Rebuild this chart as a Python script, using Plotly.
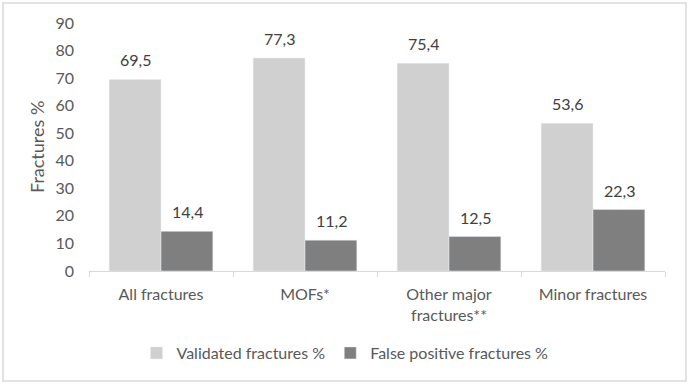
import plotly.graph_objects as go

categories = ["All fractures", "MOFs*", "Other major<br>fractures**", "Minor fractures"]
validated = [69.5, 77.3, 75.4, 53.6]
false_pos = [14.4, 11.2, 12.5, 22.3]
y_ticks = [0, 10, 20, 30, 40, 50, 60, 70, 80, 90]

FONT = "Lato, 'Open Sans', sans-serif"

fig = go.Figure()
fig.add_trace(go.Bar(
    x=categories, y=validated, name="Validated fractures %",
    marker=dict(color="#d0d0d0"),
))
fig.add_trace(go.Bar(
    x=categories, y=false_pos, name="False positive fractures %",
    marker=dict(color="#7f7f7f"),
))

W, H = 689, 384
L, R, T, B = 89, 24, 23, 113
pw, ph = W - L - R, H - T - B

def px_x(x):
    return (x - L) / pw

def px_y(y):
    return (H - B - y) / ph

def fmt(v):
    return f"{v:.1f}".replace(".", ",")

annotations = []
for series, shift in ((validated, -26), (false_pos, 26)):
    for c, v in zip(categories, series):
        annotations.append(dict(
            x=c, y=v, xref="x", yref="y", text=fmt(v), showarrow=False,
            xshift=shift, yshift=8, xanchor="center", yanchor="bottom",
            font=dict(size=16, color="#404040", family=FONT)))

annotations.append(dict(text="Fractures %", xref="paper", yref="paper",
                        x=px_x(37), y=px_y(147), textangle=-90,
                        showarrow=False, xanchor="center", yanchor="middle",
                        font=dict(size=18, color="#595959")))

fig.update_layout(
    width=W, height=H,
    margin=dict(l=L, r=R, t=T, b=B, autoexpand=False),
    paper_bgcolor="white", plot_bgcolor="white",
    separators=", ",
    barmode="group", bargap=0.28, bargroupgap=0,
    font=dict(family=FONT, size=15, color="#595959"),
    showlegend=True,
    legend=dict(orientation="h", x=px_x(345), xanchor="center",
                y=px_y(353), yanchor="middle",
                font=dict(size=16, color="#595959"),
                itemwidth=30, traceorder="normal"),
    xaxis=dict(showgrid=False, showline=True, linecolor="#d9d9d9", linewidth=1,
               ticks="outside", tickson="boundaries", ticklen=5, tickcolor="#d9d9d9",
               ticklabelstandoff=9,
               tickfont=dict(size=16, color="#595959"), fixedrange=True),
    yaxis=dict(range=[0, 90], tickvals=y_ticks, showgrid=False, showline=False,
               zeroline=False, ticks="", ticklabelstandoff=14,
               tickfont=dict(size=16, color="#595959"), fixedrange=True),
    annotations=annotations,
    shapes=[dict(type="rect", xref="paper", yref="paper",
                 x0=px_x(3), x1=px_x(686), y0=px_y(381), y1=px_y(3),
                 line=dict(color="#d9d9d9", width=1.5), layer="below")],
)

fig.write_html("out.html", config={"displayModeBar": False},
               post_script="document.body.style.margin='0';document.body.style.overflow='hidden';")
